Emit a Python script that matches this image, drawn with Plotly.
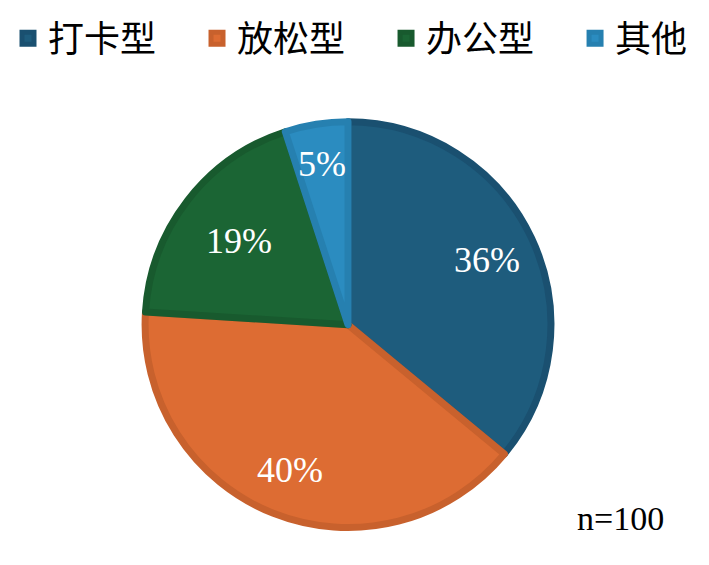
import numpy as np
import plotly.graph_objects as go

# slice data, clockwise from 12 o'clock
labels = ['打卡型', '放松型', '办公型', '其他']
values = [36, 40, 19, 5]
text_labels = ['36%', '40%', '19%', '5%']
colors = ['#1E5C7D', '#DD6C33', '#1B6534', '#2B8CC0']
edge_colors = ['#1A5070', '#C8612D', '#185A2E', '#2680B0']

serif = 'Liberation Serif, Times New Roman, serif'

# pie placement (paper coords)
dom_x = [0.1904, 0.7687]
dom_y = [0.0812, 0.8072]
cx = sum(dom_x) / 2
cy = sum(dom_y) / 2
rx = (dom_x[1] - dom_x[0]) / 2
ry = (dom_y[1] - dom_y[0]) / 2
label_r = [0.75, 0.77, 0.67, 0.80]

# legend entries padded with no-break spaces to spread them out like the original
pad = '\u00a0' * 4
legend_names = [name + pad for name in labels[:-1]] + [labels[-1]]

fig = go.Figure()

fig.add_trace(
    go.Pie(
        labels=legend_names,
        values=values,
        textinfo='none',
        marker=dict(colors=colors, line=dict(color=edge_colors, width=7)),
        sort=False,
        direction='clockwise',
        rotation=0,
        domain=dict(x=dom_x, y=dom_y),
        hoverinfo='label+percent'
    )
)

# percentage labels placed at the middle angle of each slice
total = sum(values)
start = 0.0
for v, t, fr in zip(values, text_labels, label_r):
    mid = np.radians((start + v / 2) / total * 360)
    start += v
    fig.add_annotation(
        text=t,
        x=cx + fr * rx * np.sin(mid),
        y=cy + fr * ry * np.cos(mid),
        xref='paper', yref='paper',
        xanchor='center', yanchor='middle',
        showarrow=False,
        font=dict(family=serif, size=36, color='white')
    )

fig.add_annotation(
    text='n=100',
    x=0.864, y=0.098, xref='paper', yref='paper',
    xanchor='center', yanchor='middle',
    showarrow=False,
    font=dict(family=serif, size=34, color='black')
)

fig.update_layout(
    width=709,
    height=565,
    margin=dict(l=0, r=0, t=0, b=0),
    paper_bgcolor='white',
    plot_bgcolor='white',
    showlegend=True,
    legend=dict(
        orientation='h',
        x=0.0, y=1.01,
        xanchor='left', yanchor='top',
        font=dict(family='Liberation Serif, Noto Sans CJK SC, serif', size=36, color='black'),
        itemwidth=30,
        traceorder='normal'
    )
)

fig.write_html("out.html")
